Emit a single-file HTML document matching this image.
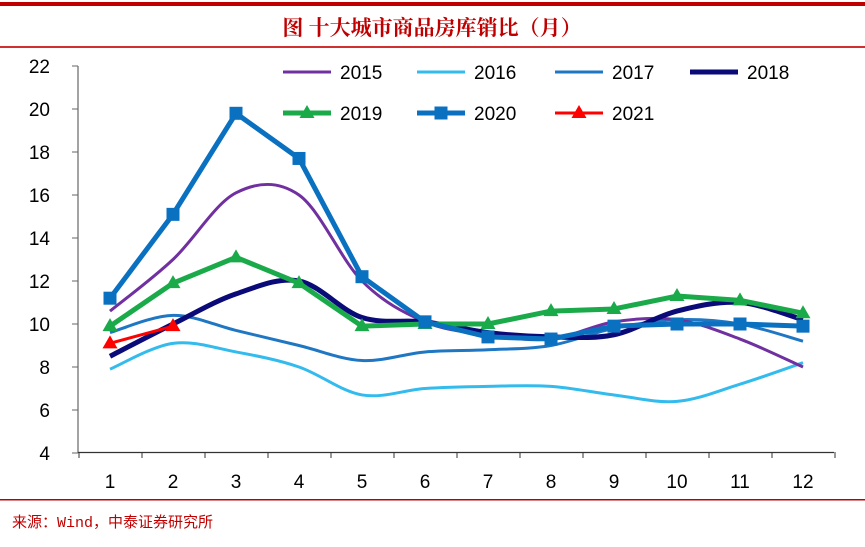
<!DOCTYPE html>
<html><head><meta charset="utf-8"><style>
body{margin:0;background:#fff;}
svg text{font-family:"Liberation Sans",sans-serif;}
</style></head><body>
<svg id="s" width="865" height="542" xmlns="http://www.w3.org/2000/svg">
<rect x="0" y="2" width="865" height="4" fill="#c00000"/>
<text x="432" y="35" text-anchor="middle" fill="#c00000" font-size="21" font-weight="bold" style="font-family:'Noto Serif CJK SC',serif">图  十大城市商品房库销比（月）</text>
<rect x="0" y="46" width="865" height="2" fill="#d03030"/>
<line x1="78" y1="66" x2="78" y2="453" stroke="#666" stroke-width="1.2"/>
<line x1="78" y1="452.5" x2="834" y2="452.5" stroke="#333" stroke-width="1.3"/>
<g id="yt" font-size="19" text-anchor="end" fill="#000"></g>
<g id="xt" font-size="19" text-anchor="middle" fill="#000"></g>
<g id="lines"></g>
<g id="legend" font-size="19" fill="#000"></g>
<rect x="0" y="499" width="865" height="1.5" fill="#c00000"/>
<text x="12" y="527" fill="#c00000" font-size="15" style="font-family:'Liberation Mono','Noto Sans CJK SC',monospace">来源：Wind，中泰证券研究所</text>
</svg>
<script>
const NS="http://www.w3.org/2000/svg";
function el(t,a,p,txt){const e=document.createElementNS(NS,t);for(const k in a)e.setAttribute(k,a[k]);if(txt!=null)e.textContent=txt;document.getElementById(p).appendChild(e);return e;}
const Y=v=>66+(22-v)*21.5, X=i=>110+63*i;
for(let v=4;v<=22;v+=2){el('text',{x:50,y:Y(v)+7},'yt',String(v));el('line',{x1:72,y1:Y(v),x2:78,y2:Y(v),stroke:'#666'},'yt');}
for(let i=0;i<12;i++){el('text',{x:X(i),y:488},'xt',String(i+1));}
for(let i=0;i<=12;i++){const x=79+63*i;el('line',{x1:x,y1:452,x2:x,y2:458,stroke:'#333'},'xt');}
function smooth(d){const p=d.map((v,i)=>[X(i),Y(v)]);let s=`M${p[0][0]},${p[0][1]}`;for(let i=0;i<p.length-1;i++){const p0=p[i-1]||p[i],p1=p[i],p2=p[i+1],p3=p[i+2]||p2;const t=6;s+=` C${p1[0]+(p2[0]-p0[0])/t},${p1[1]+(p2[1]-p0[1])/t} ${p2[0]-(p3[0]-p1[0])/t},${p2[1]-(p3[1]-p1[1])/t} ${p2[0]},${p2[1]}`;}return s;}
function straight(d){return 'M'+d.map((v,i)=>X(i)+','+Y(v)).join(' L');}
const S=[
{d:[7.9,9.1,8.7,8.0,6.7,7.0,7.1,7.1,6.7,6.4,7.2,8.2],c:'#33bbee',w:3,sm:1},
{d:[9.6,10.4,9.7,9.0,8.3,8.7,8.8,9.0,9.8,10.2,10.0,9.2],c:'#1f77c4',w:3,sm:1},
{d:[10.6,13.0,16.1,16.0,12.0,10.1,9.5,9.3,10.1,10.2,9.3,8.0],c:'#7030a0',w:3,sm:1},
{d:[8.5,10.0,11.4,12.0,10.3,10.1,9.6,9.4,9.5,10.6,11.0,10.2],c:'#0a0a78',w:5,sm:1},
{d:[9.9,11.9,13.1,11.9,9.9,10.0,10.0,10.6,10.7,11.3,11.1,10.5],c:'#1aaa4a',w:5,m:'tri'},
{d:[11.2,15.1,19.8,17.7,12.2,10.1,9.4,9.3,9.9,10.0,10.0,9.9],c:'#0a70c0',w:5,m:'sq'},
{d:[9.1,9.9],c:'#ff0000',w:3,m:'tri'}];
function marker(m,x,y,c,g){if(m=='sq')el('rect',{x:x-6.5,y:y-6.5,width:13,height:13,fill:c},g);else if(m=='tri')el('path',{d:`M${x},${y-8} L${x+7.5},${y+5} L${x-7.5},${y+5}Z`,fill:c},g);}
S.forEach(s=>{el('path',{d:s.sm?smooth(s.d):straight(s.d),fill:'none',stroke:s.c,'stroke-width':s.w,'stroke-linejoin':'round'},'lines');if(s.m)s.d.forEach((v,i)=>marker(s.m,X(i),Y(v),s.c,'lines'));});
const L=[[283,72,'#7030a0',3,null,'2015'],[417,72,'#33bbee',3,null,'2016'],[555,72,'#1f77c4',3,null,'2017'],[690,72,'#0a0a78',5,null,'2018'],
[283,113,'#1aaa4a',5,'tri','2019'],[417,113,'#0a70c0',5,'sq','2020'],[555,113,'#ff0000',3,'tri','2021']];
L.forEach(([x,y,c,w,m,t])=>{el('line',{x1:x,y1:y,x2:x+48,y2:y,stroke:c,'stroke-width':w},'legend');if(m)marker(m,x+24,y,c,'legend');el('text',{x:x+57,y:y+7},'legend',t);});
</script>
</body></html>
